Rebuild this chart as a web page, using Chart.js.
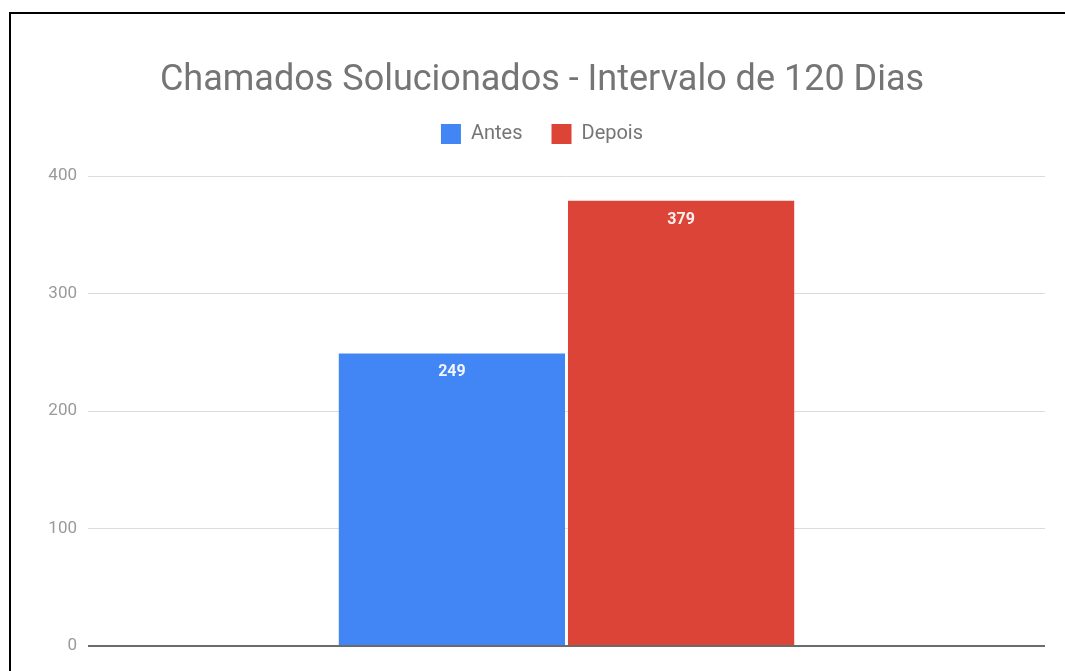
<!DOCTYPE html>
<html>
<head>
<meta charset="utf-8">
<script src="https://cdn.jsdelivr.net/npm/chart.js@4/dist/chart.umd.min.js"></script>
<style>
  html, body { margin: 0; padding: 0; background: #fff; overflow: hidden; }
  #chart { display: block; }
</style>
</head>
<body>
<canvas id="chart" width="1065" height="671"></canvas>
<script>
const chartTitle = "Chamados Solucionados - Intervalo de 120 Dias";
const categories = ["Chamados"];
const seriesNames = ["Antes", "Depois"];
const antes = [249];
const depois = [379];
const seriesColors = ["#4285f4", "#db4437"];
const yTicks = [0, 100, 200, 300, 400];

// black frame on the top and left edges of the screenshot
const pageFrame = {
  id: "pageFrame",
  beforeDraw(chart) {
    const ctx = chart.ctx;
    ctx.save();
    ctx.strokeStyle = "#000";
    ctx.lineWidth = 2;
    ctx.beginPath();
    ctx.moveTo(10, chart.height);
    ctx.lineTo(10, 13);
    ctx.lineTo(chart.width, 13);
    ctx.stroke();
    ctx.restore();
  },
};

// value labels inside the top of each bar
const barLabels = {
  id: "barLabels",
  afterDatasetsDraw(chart) {
    const ctx = chart.ctx;
    ctx.save();
    ctx.font = "bold 16px Roboto";
    ctx.fillStyle = "rgba(255,255,255,0.92)";
    ctx.textAlign = "center";
    ctx.textBaseline = "middle";
    chart.data.datasets.forEach((ds, i) => {
      chart.getDatasetMeta(i).data.forEach((bar, j) => {
        ctx.fillText(String(ds.data[j]), bar.x, bar.y + 19);
      });
    });
    ctx.restore();
  },
};

new Chart(document.getElementById("chart"), {
  type: "bar",
  data: {
    labels: categories,
    datasets: [
      { label: seriesNames[0], data: antes, backgroundColor: seriesColors[0] },
      { label: seriesNames[1], data: depois, backgroundColor: seriesColors[1] },
    ],
  },
  options: {
    responsive: false,
    animation: false,
    layout: { padding: { left: 39, right: 20, top: 0, bottom: 25 } },
    datasets: { bar: { categoryPercentage: 0.479, barPercentage: 0.987 } },
    scales: {
      x: { display: false },
      y: {
        min: 0,
        max: 400,
        afterFit: (scale) => { scale.width = 49; },
        afterBuildTicks: (scale) => { scale.ticks = yTicks.map((v) => ({ value: v })); },
        border: { display: false },
        grid: {
          drawTicks: false,
          color: (c) => (c.tick && c.tick.value === 0 ? "#6b6b6b" : "#dcdcdc"),
          lineWidth: (c) => (c.tick && c.tick.value === 0 ? 2 : 1),
        },
        ticks: {
          padding: 11,
          color: "#9a9a9a",
          font: { family: "Roboto", size: 17 },
        },
      },
    },
    plugins: {
      title: {
        display: true,
        text: chartTitle,
        color: "#757575",
        font: { family: "Roboto", size: 36, weight: "normal", lineHeight: 1 },
        padding: { top: 63, bottom: -4 },
      },
      legend: {
        position: "top",
        labels: {
          boxWidth: 20,
          boxHeight: 20,
          padding: 29,
          color: "#757575",
          font: { family: "Roboto", size: 20 },
        },
      },
      subtitle: {
        display: true,
        text: " ",
        weight: 500,
        font: { size: 1, lineHeight: 1 },
        padding: { top: 21, bottom: 0 },
      },
      tooltip: { enabled: false },
    },
  },
  plugins: [pageFrame, barLabels],
});
</script>
</body>
</html>
